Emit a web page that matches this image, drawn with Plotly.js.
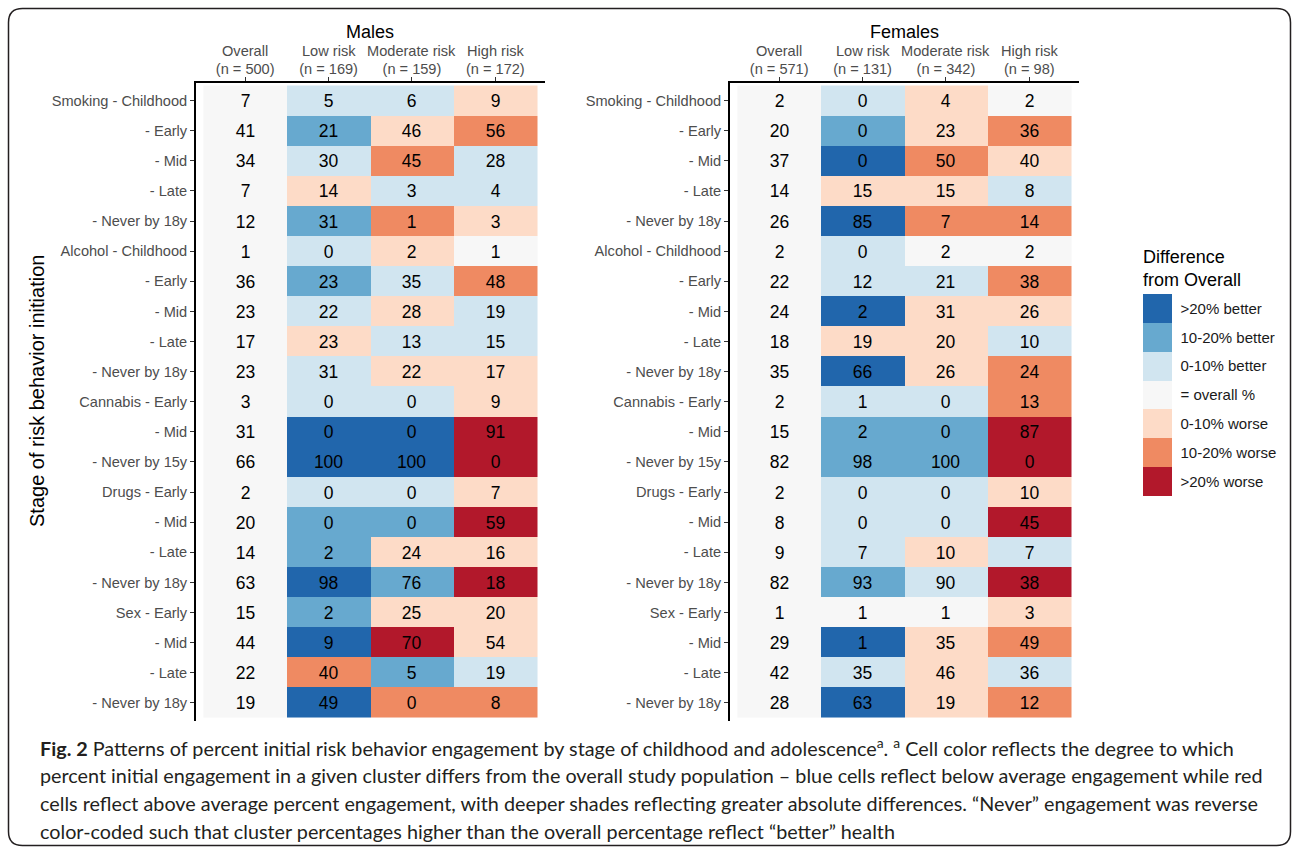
<!DOCTYPE html>
<html>
<head>
<meta charset="utf-8">
<script src="https://cdn.plot.ly/plotly-3.0.1.min.js"></script>
<style>
html,body{margin:0;padding:0;background:#fff;}
#chart{width:1292px;height:848px;}
</style>
</head>
<body>
<div id="chart"></div>
<script>
// ---------- DATA ----------
var rowLabels = ["Smoking - Childhood", "- Early", "- Mid", "- Late", "- Never by 18y",
  "Alcohol - Childhood", "- Early", "- Mid", "- Late", "- Never by 18y",
  "Cannabis - Early", "- Mid", "- Never by 15y",
  "Drugs - Early", "- Mid", "- Late", "- Never by 18y",
  "Sex - Early", "- Mid", "- Late", "- Never by 18y"];
// rows of "Never" engagement (reverse colour-coded)
var neverRows = [4, 9, 12, 16, 20];

var columnNames = ["Overall", "Low risk", "Moderate risk", "High risk"];
var malesN = ["(n = 500)", "(n = 169)", "(n = 159)", "(n = 172)"];
var femalesN = ["(n = 571)", "(n = 131)", "(n = 342)", "(n = 98)"];

var malesOverall  = [7, 41, 34, 7, 12, 1, 36, 23, 17, 23, 3, 31, 66, 2, 20, 14, 63, 15, 44, 22, 19];
var malesLow      = [5, 21, 30, 14, 31, 0, 23, 22, 23, 31, 0, 0, 100, 0, 0, 2, 98, 2, 9, 40, 49];
var malesModerate = [6, 46, 45, 3, 1, 2, 35, 28, 13, 22, 0, 0, 100, 0, 0, 24, 76, 25, 70, 5, 0];
var malesHigh     = [9, 56, 28, 4, 3, 1, 48, 19, 15, 17, 9, 91, 0, 7, 59, 16, 18, 20, 54, 19, 8];

var femalesOverall  = [2, 20, 37, 14, 26, 2, 22, 24, 18, 35, 2, 15, 82, 2, 8, 9, 82, 1, 29, 42, 28];
var femalesLow      = [0, 0, 0, 15, 85, 0, 12, 2, 19, 66, 1, 2, 98, 0, 0, 7, 93, 1, 1, 35, 63];
var femalesModerate = [4, 23, 50, 15, 7, 2, 21, 31, 20, 26, 0, 0, 100, 0, 0, 10, 90, 1, 35, 46, 19];
var femalesHigh     = [2, 36, 40, 8, 14, 2, 38, 26, 10, 24, 13, 87, 0, 10, 45, 7, 38, 3, 49, 36, 12];

// legend classes, index 0..6 (worst .. best)
var classLabels = [">20% worse", "10-20% worse", "0-10% worse", "= overall %", "0-10% better", "10-20% better", ">20% better"];
var classColors = ["#B2182B", "#EF8A62", "#FDDBC7", "#F7F7F7", "#D1E5F0", "#67A9CF", "#2166AC"];

// ---------- BUILD ----------
function classify(v, ov, never) {
  var d = v - ov;
  if (never) d = -d;           // positive d = worse
  if (d === 0) return 3;
  var a = Math.abs(d);
  var lvl = a <= 10 ? 0 : (a <= 20 ? 1 : 2);
  return d > 0 ? 2 - lvl : 4 + lvl;
}
function buildPanel(cols) {
  var z = [], t = [];
  for (var r = 0; r < rowLabels.length; r++) {
    var never = neverRows.indexOf(r) >= 0;
    var zr = [], tr = [];
    for (var c = 0; c < cols.length; c++) {
      var v = cols[c][r];
      zr.push(c === 0 ? 3 : classify(v, cols[0][r], never));
      tr.push(String(v));
    }
    z.push(zr); t.push(tr);
  }
  return {z: z, t: t};
}
var males = buildPanel([malesOverall, malesLow, malesModerate, malesHigh]);
var females = buildPanel([femalesOverall, femalesLow, femalesModerate, femalesHigh]);

var colorscale = [];
for (var i = 0; i < 7; i++) {
  colorscale.push([i / 7, classColors[i]]);
  colorscale.push([(i + 1) / 7, classColors[i]]);
}

var W = 1292, H = 848;
function px(x) { return x / W; }
function py(y) { return 1 - y / H; }

var xIdx = [0, 1, 2, 3];
var yIdx = rowLabels.map(function (_, i) { return i; });
var FONT = "Liberation Sans, Arial, sans-serif";

function hm(panel, xa, ya, showscale) {
  return {
    type: "heatmap", x: xIdx, y: yIdx, z: panel.z, text: panel.t,
    texttemplate: "%{text}", textfont: {family: FONT, size: 17.5, color: "#000000"},
    xaxis: xa, yaxis: ya, colorscale: colorscale, zmin: -0.5, zmax: 6.5,
    showscale: showscale, hoverinfo: "text",
    colorbar: {
      x: px(1143), xanchor: "left", xpad: 0,
      y: py(395), yanchor: "middle", ypad: 0,
      thicknessmode: "pixels", thickness: 29,
      lenmode: "pixels", len: 202,
      outlinewidth: 0, ticks: "outside", ticklen: 6, tickcolor: "rgba(0,0,0,0)",
      tickmode: "array", tickvals: [0, 1, 2, 3, 4, 5, 6], ticktext: classLabels,
      tickfont: {family: FONT, size: 15, color: "#1a1a1a"}
    }
  };
}

var xBase = {
  side: "top", tickmode: "array", tickvals: xIdx,
  range: [-0.596, 3.596], showgrid: false, zeroline: false,
  showline: true, linecolor: "#000000", linewidth: 1.4,
  ticks: "outside", ticklen: 4, tickwidth: 1, tickcolor: "#333333",
  ticklabelstandoff: -3,
  tickfont: {family: FONT, size: 14.6, color: "#4D4D4D"}, fixedrange: true
};
var yBase = {
  tickmode: "array", tickvals: yIdx, ticktext: rowLabels,
  range: [20.6, -0.6], showgrid: false, zeroline: false,
  showline: true, linecolor: "#000000", linewidth: 1.4,
  ticks: "outside", ticklen: 4, tickwidth: 1, tickcolor: "#333333",
  tickfont: {family: FONT, size: 14.6, color: "#4D4D4D"},
  domain: [py(721), py(82.5)], fixedrange: true
};

var layout = {
  width: W, height: H, autosize: false,
  margin: {l: 0, r: 0, t: 0, b: 0, pad: 0},
  paper_bgcolor: "#ffffff", plot_bgcolor: "#ffffff",
  font: {family: FONT},
  xaxis: Object.assign({}, xBase, {domain: [px(195.5), px(545)], anchor: "y", ticktext: malesN}),
  yaxis: Object.assign({}, yBase, {anchor: "x"}),
  xaxis2: Object.assign({}, xBase, {domain: [px(729.5), px(1079)], anchor: "y2", ticktext: femalesN}),
  yaxis2: Object.assign({}, yBase, {anchor: "x2"}),
  annotations: [
    {text: "Males", x: px(370), y: py(32), xref: "paper", yref: "paper", xanchor: "center", yanchor: "middle",
     showarrow: false, font: {family: FONT, size: 18, color: "#000"}},
    {text: "Females", x: px(904), y: py(32), xref: "paper", yref: "paper", xanchor: "center", yanchor: "middle",
     showarrow: false, font: {family: FONT, size: 18, color: "#000"}},
    {text: "Stage of risk behavior initiation", x: px(37), y: py(391), xref: "paper", yref: "paper",
     xanchor: "center", yanchor: "middle", textangle: -90, showarrow: false,
     font: {family: FONT, size: 20, color: "#000"}},
    {text: "Difference<br>from Overall", x: px(1141), y: py(245), xref: "paper", yref: "paper",
     xanchor: "left", yanchor: "top", align: "left", showarrow: false,
     font: {family: FONT, size: 18, color: "#000"}}
  ],
  shapes: []
};

// column-name line of the header, placed on each x axis scale
[["x", "Males"], ["x2", "Females"]].forEach(function (p) {
  columnNames.forEach(function (nm, c) {
    layout.annotations.push({text: nm, x: xIdx[c], xref: p[0], y: py(51.5), yref: "paper",
      xanchor: "center", yanchor: "middle", showarrow: false, borderpad: 0,
      font: {family: FONT, size: 14.6, color: "#4D4D4D"}});
  });
});

// caption
var CAP = "Lato, Open Sans, sans-serif";
var captionLines = [
  "<b>Fig. 2</b> Patterns of percent initial risk behavior engagement by stage of childhood and adolescence<sup>a</sup>. <sup>a</sup> Cell color reflects the degree to which",
  "percent initial engagement in a given cluster differs from the overall study population \u2013 blue cells reflect below average engagement while red",
  "cells reflect above average percent engagement, with deeper shades reflecting greater absolute differences. \u201CNever\u201D engagement was reverse",
  "color-coded such that cluster percentages higher than the overall percentage reflect \u201Cbetter\u201D health"
];
var capY = [747, 775, 803, 831];
captionLines.forEach(function (s, i) {
  layout.annotations.push({text: s, x: px(38), y: py(capY[i]), xref: "paper", yref: "paper",
    xanchor: "left", yanchor: "middle", align: "left", showarrow: false,
    font: {family: CAP, size: 19.8, color: "#231F20"}});
});

// rounded frame
(function () {
  var x0 = 8.5, x1 = 1290.5, y0 = 8.5, y1 = 845.5, r = 14;
  function P(x, y) { return px(x) + "," + py(y); }
  var d = "M" + P(x0 + r, y0) + " L" + P(x1 - r, y0) + " Q" + P(x1, y0) + " " + P(x1, y0 + r) +
          " L" + P(x1, y1 - r) + " Q" + P(x1, y1) + " " + P(x1 - r, y1) +
          " L" + P(x0 + r, y1) + " Q" + P(x0, y1) + " " + P(x0, y1 - r) +
          " L" + P(x0, y0 + r) + " Q" + P(x0, y0) + " " + P(x0 + r, y0) + " Z";
  layout.shapes.push({type: "path", path: d, xref: "paper", yref: "paper",
    line: {color: "#231F20", width: 1.5}, fillcolor: "rgba(0,0,0,0)", layer: "above"});
})();

Plotly.newPlot("chart", [hm(males, "x", "y", true), hm(females, "x2", "y2", false)], layout,
  {displayModeBar: false, staticPlot: true});
</script>
</body>
</html>
